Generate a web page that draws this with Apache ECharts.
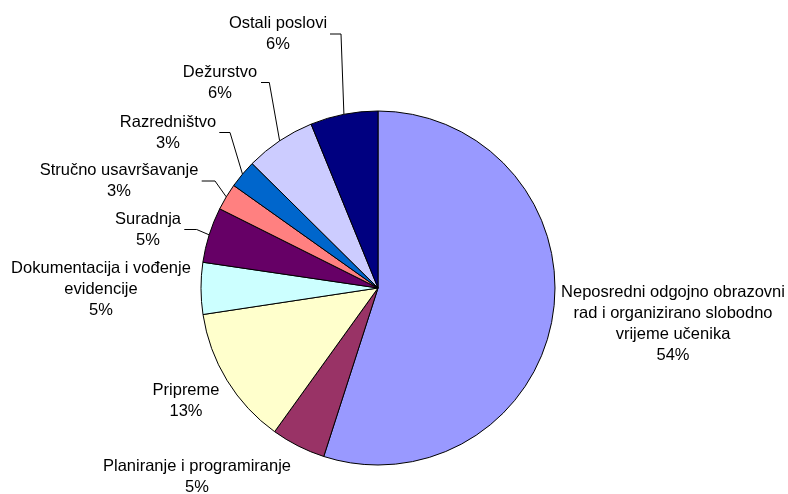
<!DOCTYPE html>
<html>
<head>
<meta charset="utf-8">
<script src="https://cdn.jsdelivr.net/npm/echarts@6/dist/echarts.min.js"></script>
<style>html,body{margin:0;padding:0;background:#fff;}#c{width:788px;height:494px;}</style>
</head>
<body>
<div id="c"></div>
<script>
// Categories (clockwise from top)
const categories = [
  'Neposredni odgojno obrazovni\nrad i organizirano slobodno\nvrijeme učenika',
  'Planiranje i programiranje',
  'Pripreme',
  'Dokumentacija i vođenje\nevidencije',
  'Suradnja',
  'Stručno usavršavanje',
  'Razredništvo',
  'Dežurstvo',
  'Ostali poslovi'
];
// Slice shares (angles)
const shares = [54.97, 4.97, 12.68, 4.72, 5.06, 2.45, 2.58, 6.42, 6.17];
// Percentages printed on the labels
const percentLabels = [54, 5, 13, 5, 5, 3, 3, 6, 6];
const colors = ['#9999FF', '#993366', '#FFFFCC', '#CCFFFF', '#660066', '#FF8080', '#0066CC', '#CCCCFF', '#000080'];

// Label layout: centre of text block, optional leader-line bend x and end x
const labelLayout = [
  {x: 673, y: 324, bend: null, end: null},
  {x: 197, y: 477, bend: null, end: null},
  {x: 186, y: 401, bend: null, end: null},
  {x: 101, y: 289, bend: null, end: null},
  {x: 148, y: 229.5, bend: 196.7, end: 184.3},
  {x: 119, y: 181, bend: 215, end: 201.7},
  {x: 168, y: 132.5, bend: 230, end: 219.3},
  {x: 220, y: 82.5, bend: 269.3, end: 261},
  {x: 278, y: 34, bend: 341, end: 330}
];

const chart = echarts.init(document.getElementById('c'));
chart.setOption({
  backgroundColor: '#ffffff',
  animation: false,
  series: [{
    type: 'pie',
    center: [378, 288],
    radius: 177,
    startAngle: 90,
    clockwise: true,
    avoidLabelOverlap: false,
    minShowLabelAngle: 0,
    emphasis: {disabled: true},
    itemStyle: {borderColor: '#000', borderWidth: 1},
    label: {
      show: true,
      position: 'outside',
      color: '#000',
      fontFamily: 'Liberation Sans, Arial, sans-serif',
      fontSize: 16.5,
      lineHeight: 21,
      align: 'center',
      formatter: p => p.name + '\n' + percentLabels[p.dataIndex] + '%'
    },
    labelLine: {show: true, smooth: false, lineStyle: {color: '#000', width: 1}},
    labelLayout: function (params) {
      const L = labelLayout[params.dataIndex];
      const res = {x: L.x, y: L.y, align: 'center', verticalAlign: 'middle'};
      if (L.bend != null && params.labelLinePoints) {
        const s = params.labelLinePoints[0];
        res.labelLinePoints = [[s[0], s[1]], [L.bend, L.y], [L.end, L.y]];
      }
      return res;
    },
    data: categories.map((c, i) => ({
      name: c,
      value: shares[i],
      itemStyle: {color: colors[i]},
      labelLine: {show: labelLayout[i].bend != null}
    }))
  }]
});
</script>
</body>
</html>
